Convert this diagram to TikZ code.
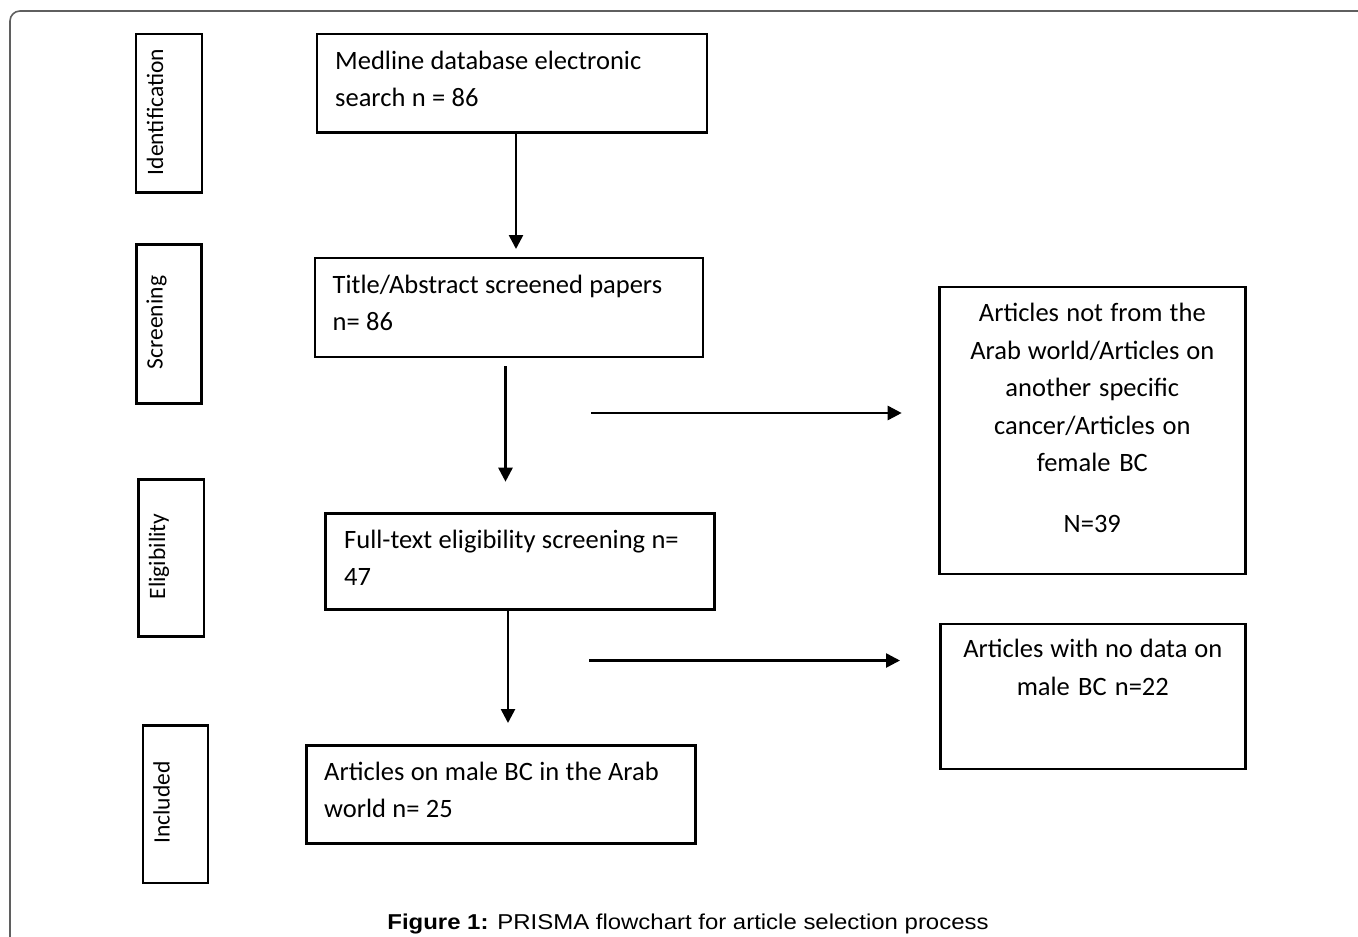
\documentclass[tikz,border=0pt]{standalone}
\usepackage{fontspec}
\setmainfont{Carlito}
\newfontfamily\capfont{Liberation Sans}
\usetikzlibrary{arrows.meta,calc}
\definecolor{framegray}{RGB}{95,95,95}
\tikzset{
  box/.style={draw=black, line width=2.6pt, rectangle, inner sep=0pt, anchor=north west},
  txt/.style={inner sep=0pt, font=\fontsize{26.5}{37.5}\selectfont, align=left, text width=390pt, anchor=base west, execute at begin node={\spaceskip=0.24em plus 0.05em\relax}},
  ctxt/.style={inner sep=0pt, font=\fontsize{26.5}{37.5}\selectfont, align=center, text width=300pt, anchor=base, execute at begin node={\spaceskip=0.24em plus 0.05em\relax}},
  lab/.style={inner sep=0pt, font=\fontsize{23.5}{28}\selectfont, rotate=90, anchor=base},
  arr/.style={line width=2.6pt, -{Triangle[length=14pt, width=14pt]}}
}
\begin{document}
\begin{tikzpicture}[x=1pt,y=-1pt]
\useasboundingbox (0,0) rectangle (1358,937);
% outer frame
\draw[framegray, line width=1.6pt, rounded corners=10pt] (10,945) -- (10,11) -- (1370,11);
% stage labels
\node[box, minimum width=66pt, minimum height=158.5pt] (ident) at (134.5,32.5) {};
\node[lab] at (163,112) {Identification};
\node[box, minimum width=65pt, minimum height=159pt] (screen) at (135,243) {};
\node[lab] at (162.5,322.5) {Screening};
\node[box, minimum width=65.5pt, minimum height=157pt] (elig) at (137,478) {};
\node[lab] at (165,556.5) {Eligibility};
\node[box, minimum width=65pt, minimum height=157.5pt] (inclab) at (141.5,724) {};
\node[lab] at (169.5,802.5) {Included};
% main boxes
\node[box, minimum width=390pt, minimum height=98.5pt] (medline) at (315.5,32.5) {};
\node[txt] at ([shift={(19.5,36.5)}]medline.north west) {Medline database electronic\\search n = 86};
\node[box, minimum width=388pt, minimum height=99pt] (title) at (313.5,256.5) {};
\node[txt] at ([shift={(19,36.5)}]title.north west) {Title/Abstract screened papers\\n= 86};
\node[box, minimum width=389pt, minimum height=96pt] (full) at (324,512) {};
\node[txt] at ([shift={(20,36)}]full.north west) {Full-text eligibility screening n=\\47};
\node[box, minimum width=389pt, minimum height=98pt] (incl) at (305,744) {};
\node[txt] at ([shift={(19,36)}]incl.north west) {Articles on male BC in the Arab\\world n= 25};
% exclusion boxes
\node[box, minimum width=306pt, minimum height=287pt] (excl1) at (938,285.5) {};
\node[ctxt] at ([shift={(0,36)}]excl1.north) {Articles not from the\\Arab world/Articles on\\another specific\\cancer/Articles on\\female BC\\[23.5pt]N=39};
\node[box, minimum width=305pt, minimum height=145pt] (excl2) at (939,622.5) {};
\node[ctxt] at ([shift={(0,34.5)}]excl2.north) {Articles with no data on\\[0.5pt]male BC n=22};
% arrows
\coordinate (a1e) at (516,249);
\draw[arr] (medline.south -| a1e) -- (a1e);
\coordinate (a2s) at (505.5,366);
\coordinate (a2e) at (505.5,481.7);
\draw[arr] (a2s) -- (a2e);
\coordinate (h1s) at (591,413);
\coordinate (h1e) at (901.7,413);
\draw[arr] (h1s) -- (h1e);
\coordinate (a3e) at (508,723);
\draw[arr] (full.south -| a3e) -- (a3e);
\coordinate (h2s) at (589,660.5);
\coordinate (h2e) at (900,660.5);
\draw[arr] (h2s) -- (h2e);
% caption
\node[inner sep=0pt, anchor=base, xscale=1.114, font=\fontsize{21.5}{26}\selectfont\capfont] (cap) at (688,929) {\textbf{Figure 1:} PRISMA flowchart for article selection process};
\end{tikzpicture}
\end{document}
